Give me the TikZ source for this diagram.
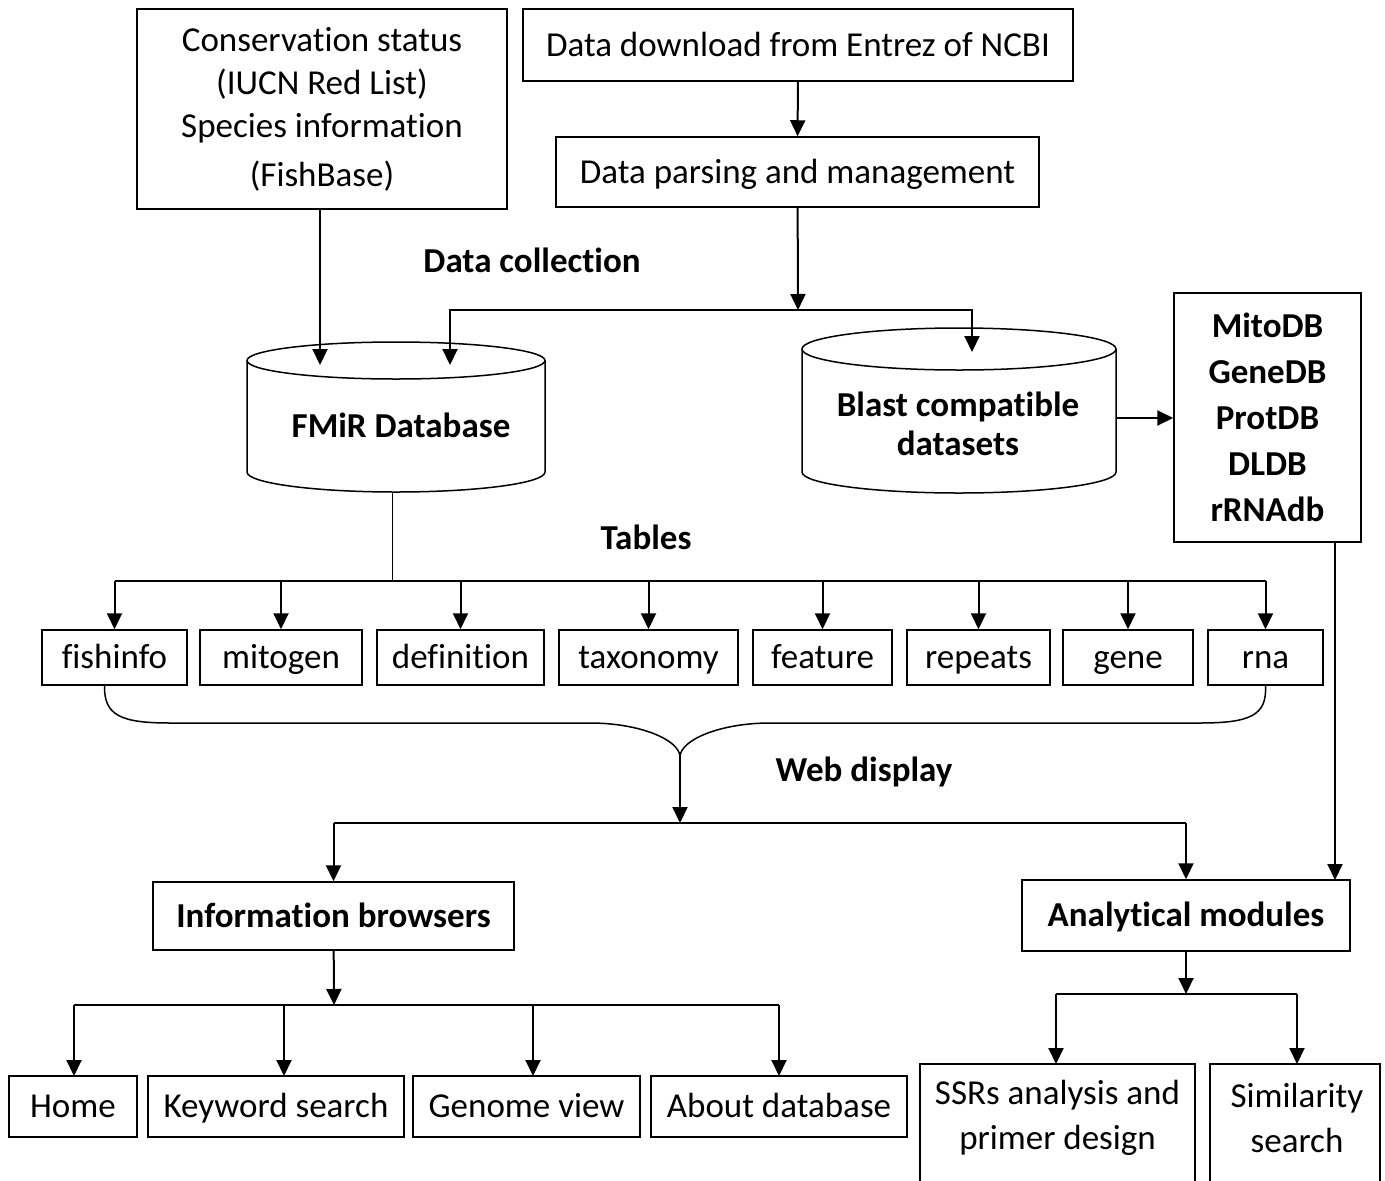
\documentclass[tikz,border=0pt]{standalone}
\usepackage{fontspec}
\setmainfont{Carlito}[Ligatures=NoCommon]
\usetikzlibrary{arrows.meta,positioning}
\tikzset{
  box/.style={draw, line width=1.5pt, inner sep=0pt, font=\fontsize{35}{42}\selectfont,
    text height=26pt, text depth=4pt},
  boxml/.style={draw, line width=1.5pt, inner sep=0pt, font=\fontsize{35}{42}\selectfont, align=center},
  lbl/.style={font=\fontsize{35}{42}\selectfont\bfseries},
  arr/.style={line width=2pt, -{Triangle[width=15pt,length=16pt]}},
  ln/.style={line width=2pt},
}
\begin{document}
\begin{tikzpicture}[x=1pt, y=1pt]
  \useasboundingbox (0,0) rectangle (1385,-1181);
  % data collection
  \node[boxml, minimum width=370, minimum height=200] (cons) at (322,-109)
    {Conservation status\\[1pt](IUCN Red List)\\[1pt]Species information\\[7pt](FishBase)};
  \node[box, minimum width=550, minimum height=72] (down) at (798,-45) {Data download from Entrez of NCBI};
  \node[box, minimum width=483, minimum height=70] (parse) at (797.5,-172) {Data parsing and management};
  \node[lbl] (collect) at (532,-260) {Data collection};
  \draw[arr] (down) -- (parse);
  \coordinate (j1) at (798,-310);
  \draw[arr] (parse) -- (j1);
  % databases
  \draw[line width=1.5pt] (396,-360.5) ellipse [x radius=149pt, y radius=18.5pt];
  \draw[line width=1.5pt] (247,-360.5) -- (247,-472) arc[start angle=180, end angle=360, x radius=149pt, y radius=20pt] -- (545,-360.5);
  \node[lbl] (fmir) at (401,-425) {FMiR Database};
  \draw[line width=1.5pt] (959,-349) ellipse [x radius=157pt, y radius=21pt];
  \draw[line width=1.5pt] (802,-349) -- (802,-472) arc[start angle=180, end angle=360, x radius=157pt, y radius=21pt] -- (1116,-349);
  \node[lbl, align=center] (blast) at (958,-424) {Blast compatible\\[-3pt]datasets};
  \coordinate (fmirin) at (450,-365);
  \coordinate (blastin) at (972,-352);
  \coordinate (fmirbot) at (392,-492);
  \coordinate (blastout) at (1116,-418);
  \draw[arr] (j1) -| (fmirin);
  \draw[arr] (j1) -| (blastin);
  \draw[arr] (cons.south -| 320,0) -- (320,-365);
  \node[boxml, font=\fontsize{35}{42}\selectfont\bfseries, minimum width=187, minimum height=249] (mito) at (1267.5,-417.5)
    {MitoDB\\[4pt]GeneDB\\[4pt]ProtDB\\[4pt]DLDB\\[4pt]rRNAdb};
  \draw[arr] (blastout) -- (blastout -| mito.west);
  % tables
  \node[lbl] (tables) at (646,-537) {Tables};
  \coordinate (tj) at (392,-581);
  \foreach \name/\l/\r in {fishinfo/42/187, mitogen/200/362, definition/377/544, taxonomy/559/738,
                          feature/753/892, repeats/907/1050, gene/1063/1193, rna/1208/1323}
    \node[box, minimum width=\r-\l, minimum height=55] (\name) at ({(\l+\r)/2},-657.5) {\name};
  \draw (fmirbot) -- (tj);
  \draw[ln] (fishinfo.north |- tj) -- (rna.north |- tj);
  \foreach \name in {fishinfo, mitogen, definition, taxonomy, feature, repeats, gene, rna}
    \draw[arr] (\name.north |- tj) -- (\name.north);
  % web display
  \coordinate (web) at (680,-757);
  \draw[line width=1.5pt] ([xshift=-10pt]fishinfo.south) .. controls (104,-715) and (120,-723) .. (170,-723)
    -- (590,-723) .. controls (640,-723) and (680,-740) .. (web);
  \draw[line width=1.5pt] (rna.south) .. controls (1267,-715) and (1251,-723) .. (1200,-723)
    -- (770,-723) .. controls (720,-723) and (680,-740) .. (web);
  \node[lbl] (webdisp) at (864,-772) {Web display};
  \coordinate (j2) at (680,-823);
  \draw[arr] (web) -- (j2);
  \node[box, font=\fontsize{35}{42}\selectfont\bfseries, minimum width=361, minimum height=68] (info) at (333.5,-916) {Information browsers};
  \node[box, font=\fontsize{35}{42}\selectfont\bfseries, minimum width=328, minimum height=71] (anal) at (1186,-915.5) {Analytical modules};
  \draw[ln] (info.north |- j2) -- (anal.north |- j2);
  \draw[arr] (info.north |- j2) -- (info.north);
  \draw[arr] (anal.north |- j2) -- (anal.north);
  \draw[arr] (mito.south -| 1335,0) -- (1335,-880);
  % information browsers
  \coordinate (j3) at (334,-1005);
  \draw[arr] (info) -- (j3);
  \foreach \name/\txt/\l/\r in {home/Home/9/137, keyword/Keyword search/148/404,
                               genome/Genome view/413/640, about/About database/651/907}
    \node[box, minimum width=\r-\l, minimum height=61] (\name) at ({(\l+\r)/2},-1106.5) {\txt};
  \draw[ln] (74,-1005) -- (779,-1005);
  \foreach \name/\x in {home/74, keyword/284, genome/533, about/779}
    \draw[arr] (\x,-1005) -- (\x,-1076);
  % analytical modules
  \coordinate (j4) at (1186,-994);
  \draw[arr] (anal) -- (j4);
  \node[boxml, minimum width=275, minimum height=150] (ssr) at (1057.5,-1139) {};
  \node[font=\fontsize{35}{42}\selectfont, align=center] (ssrtxt) at (1057.5,-1118) {SSRs analysis and\\[3pt]primer design};
  \node[boxml, minimum width=170, minimum height=150] (simil) at (1295,-1139) {};
  \node[font=\fontsize{35}{42}\selectfont, align=center] (simtxt) at (1297,-1118) {Similarity\\[3pt]search};
  \draw[ln] (1056,-994) -- (1297,-994);
  \draw[arr] (1056,-994) -- (1056,-1064);
  \draw[arr] (1297,-994) -- (1297,-1064);
\end{tikzpicture}
\end{document}
